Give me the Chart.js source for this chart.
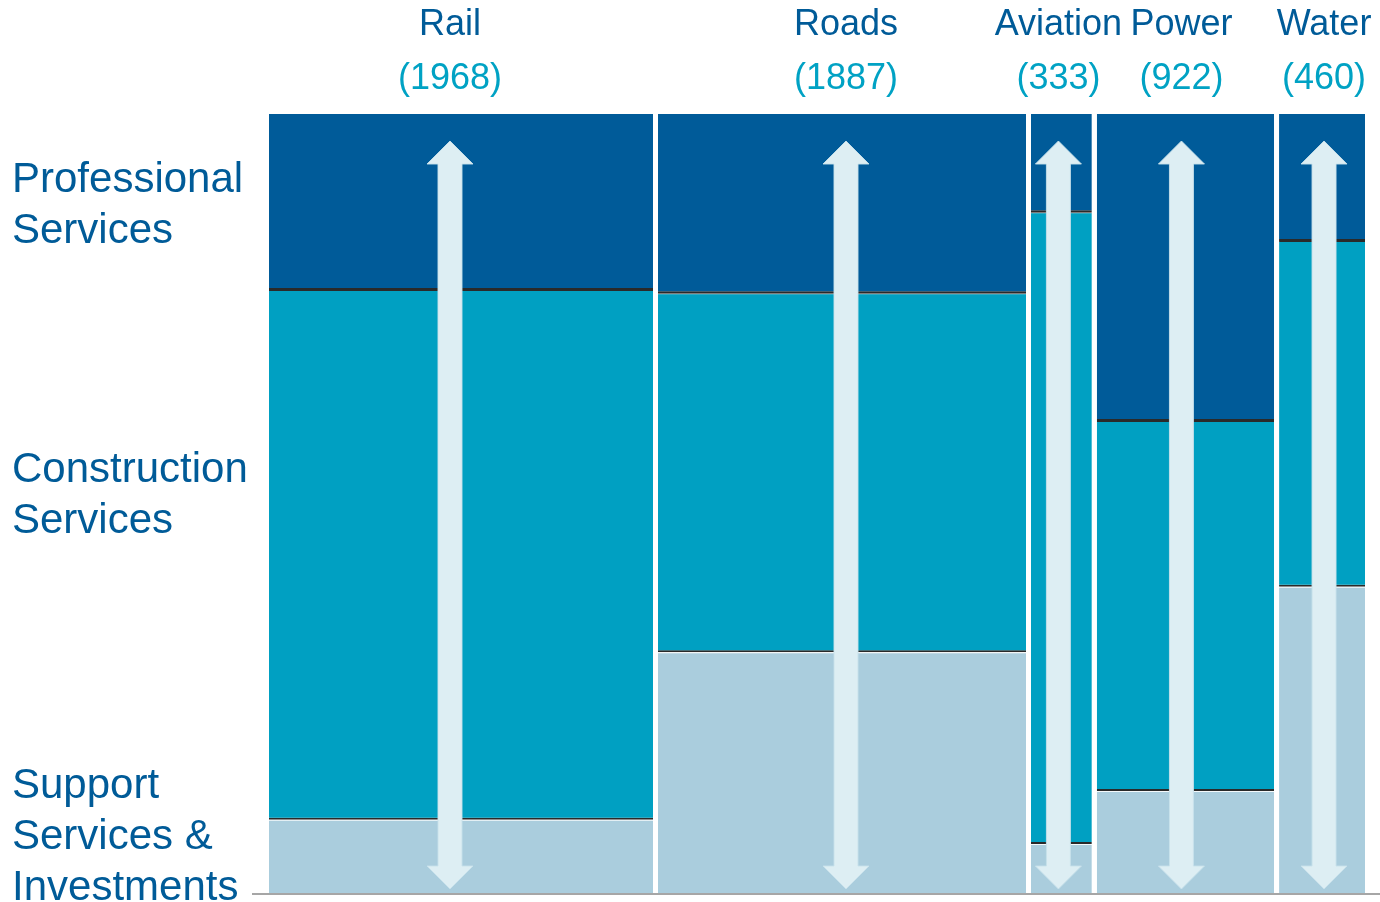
<!DOCTYPE html>
<html>
<head>
<meta charset="utf-8">
<title>Pipeline by sector</title>
<script src="https://cdn.jsdelivr.net/npm/chart.js@4/dist/chart.umd.min.js"></script>
<style>
  html, body { margin: 0; padding: 0; background: #fff; overflow: hidden; }
  #wrap { position: relative; width: 1380px; height: 902px; }
</style>
</head>
<body>
<div id="wrap"><canvas id="mekko"></canvas></div>
<script>
// sectors across the top, width of each column = sector total
const sectors = ['Rail', 'Roads', 'Aviation', 'Power', 'Water'];
const totals = [1968, 1887, 333, 922, 460];

// share of each column (%), bottom to top
const supportPct = [9.4, 30.9, 6.3, 13.1, 39.3];
const constructionPct = [68.0, 46.1, 81.1, 47.5, 44.4];
const professionalPct = [22.6, 23.0, 12.6, 39.4, 16.3];

// row labels on the left and the y value of their first line
const rowLabels = [
    ['Professional', 'Services'],
    ['Construction', 'Services'],
    ['Support', 'Services &', 'Investments']
];
const rowLabelAt = [90.0, 52.8, 12.2];

const FONT = '"Liberation Sans", Arial, sans-serif';
const GAP = 5;
// arrows / labels are not quite centred in the original
const ANCHOR_SHIFT = [-11, 4, -3, -4, 2];

// running start of each column along the x axis
const colStart = [];
totals.reduce((acc, t, i) => { colStart[i] = acc; return acc + t; }, 0);
const grandTotal = totals.reduce((a, b) => a + b, 0);

function floatData(lows, highs) {
    return sectors.map((s, i) => ({
        x: colStart[i] + totals[i] / 2,
        y: [lows[i], highs[i]]
    }));
}

const supTop = supportPct.map(v => v);
const conTop = supportPct.map((v, i) => v + constructionPct[i]);

function colCenter(xs, i) {
    const p0 = xs.getPixelForValue(colStart[i]);
    const p1 = xs.getPixelForValue(colStart[i] + totals[i]);
    return (p0 + p1 - GAP) / 2;
}

const marimekko = {
    id: 'marimekko',
    afterDatasetsUpdate(chart) {
        const xs = chart.scales.x;
        chart.data.datasets.forEach((ds, di) => {
            chart.getDatasetMeta(di).data.forEach((bar, i) => {
                const p0 = xs.getPixelForValue(colStart[i]);
                const p1 = xs.getPixelForValue(colStart[i] + totals[i]);
                bar.x = (p0 + p1 - GAP) / 2;
                bar.width = p1 - p0 - GAP;
            });
        });
    },
    afterDatasetsDraw(chart) {
        const ctx = chart.ctx;
        const xs = chart.scales.x;
        const area = chart.chartArea;

        // double headed arrows in every column
        ctx.save();
        ctx.fillStyle = '#ddeef3';
        ctx.strokeStyle = 'rgba(200, 225, 235, 0.9)';
        ctx.lineWidth = 1;
        totals.forEach((t, i) => {
            const cx = colCenter(xs, i) + ANCHOR_SHIFT[i];
            const top = area.top + 27;
            const bot = area.bottom - 4;
            const head = 23, hw = 23, sw = 12;
            ctx.beginPath();
            ctx.moveTo(cx, top);
            ctx.lineTo(cx + hw, top + head);
            ctx.lineTo(cx + sw, top + head);
            ctx.lineTo(cx + sw, bot - head);
            ctx.lineTo(cx + hw, bot - head);
            ctx.lineTo(cx, bot);
            ctx.lineTo(cx - hw, bot - head);
            ctx.lineTo(cx - sw, bot - head);
            ctx.lineTo(cx - sw, top + head);
            ctx.lineTo(cx - hw, top + head);
            ctx.closePath();
            ctx.fill();
            ctx.stroke();
        });

        // baseline
        ctx.strokeStyle = '#a6a6a6';
        ctx.lineWidth = 2;
        ctx.beginPath();
        ctx.moveTo(area.left - 17, area.bottom + 1);
        ctx.lineTo(area.right + 10, area.bottom + 1);
        ctx.stroke();
        ctx.restore();
    },
    afterDraw(chart) {
        const ctx = chart.ctx;
        const xs = chart.scales.x;
        const ys = chart.scales.y;
        ctx.save();
        ctx.textBaseline = 'alphabetic';

        // sector names and totals
        ctx.textAlign = 'center';
        sectors.forEach((name, i) => {
            const cx = colCenter(xs, i) + ANCHOR_SHIFT[i];
            ctx.font = '36px ' + FONT;
            ctx.fillStyle = '#005b98';
            ctx.fillText(name, cx, 35);
            ctx.fillStyle = '#00a2c4';
            ctx.fillText('(' + totals[i] + ')', cx, 89);
        });

        // row labels
        ctx.textAlign = 'left';
        ctx.font = '42px ' + FONT;
        ctx.fillStyle = '#005b98';
        rowLabels.forEach((lines, r) => {
            const y0 = ys.getPixelForValue(rowLabelAt[r]);
            lines.forEach((line, k) => ctx.fillText(line, 12, y0 + k * 51));
        });
        ctx.restore();
    }
};

new Chart(document.getElementById('mekko'), {
    type: 'bar',
    data: {
        datasets: [
            {
                label: 'Support Services & Investments',
                data: floatData(sectors.map(() => 0), supTop),
                backgroundColor: '#aacddd',
                borderColor: '#f4f9fb',
                borderWidth: { top: 1, bottom: 0, left: 0, right: 0 }
            },
            {
                label: 'Construction Services',
                data: floatData(supTop, conTop),
                backgroundColor: '#00a0c2',
                borderColor: '#2a2a2a',
                borderWidth: { top: 1, bottom: 2, left: 0, right: 0 }
            },
            {
                label: 'Professional Services',
                data: floatData(conTop, sectors.map(() => 100)),
                backgroundColor: '#005b99',
                borderColor: '#2a2a2a',
                borderWidth: { top: 0, bottom: 2, left: 0, right: 0 }
            }
        ]
    },
    options: {
        responsive: true,
        maintainAspectRatio: false,
        animation: false,
        layout: { padding: { left: 269, right: 10, top: 114, bottom: 9 } },
        datasets: {
            bar: { borderSkipped: false, inflateAmount: 0, grouped: false }
        },
        plugins: {
            legend: { display: false },
            tooltip: { enabled: false }
        },
        scales: {
            x: { type: 'linear', min: 0, max: grandTotal, offset: false, display: false },
            y: { type: 'linear', min: 0, max: 100, display: false }
        }
    },
    plugins: [marimekko]
});
</script>
</body>
</html>
